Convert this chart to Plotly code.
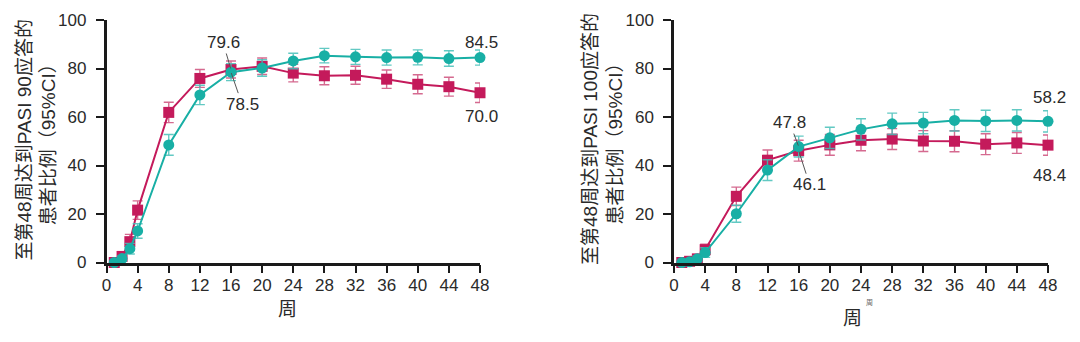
import plotly.graph_objects as go

# ---------------- data ----------------
weeks = [1, 2, 3, 4, 8, 12, 16, 20, 24, 28, 32, 36, 40, 44, 48]
x_ticks = [0, 4, 8, 12, 16, 20, 24, 28, 32, 36, 40, 44, 48]
y_ticks = [0, 20, 40, 60, 80, 100]

# PASI 90 (left panel)
p90_sq = [0.0, 2.5, 8.6, 21.6, 61.9, 75.9, 79.6, 80.9, 78.1, 77.0, 77.2, 75.6, 73.5, 72.5, 70.0]
p90_sq_err = [0.5, 1.5, 3.0, 3.8, 4.2, 3.7, 3.5, 3.4, 3.6, 3.7, 3.7, 3.8, 3.9, 3.9, 4.0]
p90_ci = [0.0, 1.6, 5.7, 13.0, 48.5, 69.1, 78.5, 80.2, 83.1, 85.3, 84.8, 84.5, 84.6, 84.1, 84.5]
p90_ci_err = [0.3, 1.0, 2.2, 3.0, 4.3, 4.0, 3.5, 3.4, 3.2, 3.0, 3.1, 3.1, 3.1, 3.2, 3.1]

# PASI 100 (right panel)
p100_sq = [0.0, 0.5, 1.5, 5.3, 27.3, 42.2, 46.1, 48.5, 50.4, 50.9, 50.1, 50.0, 48.8, 49.3, 48.4]
p100_sq_err = [0.2, 0.6, 1.2, 2.2, 3.8, 4.2, 4.3, 4.3, 4.3, 4.3, 4.3, 4.3, 4.3, 4.3, 4.2]
p100_ci = [0.0, 0.3, 1.5, 4.1, 20.1, 38.1, 47.8, 51.4, 54.9, 57.2, 57.5, 58.6, 58.4, 58.6, 58.2]
p100_ci_err = [0.2, 0.5, 1.2, 2.0, 3.5, 4.3, 4.3, 4.4, 4.4, 4.4, 4.4, 4.4, 4.4, 4.4, 4.4]

y_title_left = "至第48周达到PASI 90应答的<br>患者比例（95%CI）"
y_title_right = "至第48周达到PASI 100应答的<br>患者比例（95%CI）"
x_title = "周"

# ---------------- style ----------------
MAG = "#C41A5B"
MAG_ERR = "rgba(206,80,124,0.85)"
TEAL = "#18AFA5"
TEAL_ERR = "rgba(70,192,184,0.85)"
AXIS = "#1a1a1a"
TXT = "#2a2a2a"
FONT = "Liberation Sans, Arial, Noto Sans CJK SC, sans-serif"
CJK = "Liberation Sans, Noto Sans CJK SC, sans-serif"

fig = go.Figure()


def add_series(y, err, color, ecolor, symbol, xa, ya):
    fig.add_trace(go.Scatter(
        x=weeks, y=y, mode="lines+markers",
        line=dict(color=color, width=2),
        marker=dict(color=color, size=11, symbol=symbol, line=dict(width=0)),
        error_y=dict(type="data", array=err, visible=True, color=ecolor,
                     thickness=1.4, width=5),
        cliponaxis=False, showlegend=False, xaxis=xa, yaxis=ya,
    ))


add_series(p90_sq, p90_sq_err, MAG, MAG_ERR, "square", "x", "y")
add_series(p90_ci, p90_ci_err, TEAL, TEAL_ERR, "circle", "x", "y")
add_series(p100_sq, p100_sq_err, MAG, MAG_ERR, "square", "x2", "y2")
add_series(p100_ci, p100_ci_err, TEAL, TEAL_ERR, "circle", "x2", "y2")

ydom = [(342 - 262.5) / 342, (342 - 20) / 342]
axis_common = dict(
    showline=True, linecolor=AXIS, linewidth=2.5, showgrid=False, zeroline=False,
    ticks="outside", ticklen=8, tickwidth=2, tickcolor=AXIS, automargin=False,
    tickfont=dict(family=FONT, size=17, color=TXT),
)
fig.update_layout(
    width=1080, height=342,
    margin=dict(l=0, r=0, t=0, b=0, pad=0, autoexpand=False),
    paper_bgcolor="white", plot_bgcolor="white", showlegend=False,
    xaxis=dict(domain=[106.5 / 1080, 480 / 1080], range=[0, 48], tickvals=x_ticks,
               anchor="y", ticklabelstandoff=-3, **axis_common),
    yaxis=dict(domain=ydom, range=[0, 100], tickvals=y_ticks, anchor="x",
               ticklabelstandoff=6, **axis_common),
    xaxis2=dict(domain=[674 / 1080, 1048 / 1080], range=[0, 48], tickvals=x_ticks,
                anchor="y2", ticklabelstandoff=-3, **axis_common),
    yaxis2=dict(domain=ydom, range=[0, 100], tickvals=y_ticks, anchor="x2",
                ticklabelstandoff=6, **axis_common),
)

ann_font = dict(family=FONT, size=17, color=TXT)
anns = [
    # leader-line labels at week 16
    dict(x=16, y=p90_sq[6], xref="x", yref="y", text=f"{p90_sq[6]:.1f}",
         showarrow=True, arrowhead=0, arrowwidth=1, arrowcolor="#555",
         ax=-8, ay=-27, standoff=1, font=ann_font),
    dict(x=16, y=p90_ci[6], xref="x", yref="y", text=f"{p90_ci[6]:.1f}",
         showarrow=True, arrowhead=0, arrowwidth=1, arrowcolor="#555",
         ax=11, ay=32, standoff=1, font=ann_font),
    dict(x=16, y=p100_ci[6], xref="x2", yref="y2", text=f"{p100_ci[6]:.1f}",
         showarrow=True, arrowhead=0, arrowwidth=1, arrowcolor="#555",
         ax=-9, ay=-24, standoff=1, font=ann_font),
    dict(x=16, y=p100_sq[6], xref="x2", yref="y2", text=f"{p100_sq[6]:.1f}",
         showarrow=True, arrowhead=0, arrowwidth=1, arrowcolor="#555",
         ax=11, ay=34, standoff=1, font=ann_font),
    # end labels at week 48
    dict(x=48, y=p90_ci[-1], xref="x", yref="y", text=f"{p90_ci[-1]:.1f}",
         showarrow=False, yshift=15, xshift=1, font=ann_font),
    dict(x=48, y=p90_sq[-1], xref="x", yref="y", text=f"{p90_sq[-1]:.1f}",
         showarrow=False, yshift=-24, xshift=1, font=ann_font),
    dict(x=48, y=p100_ci[-1], xref="x2", yref="y2", text=f"{p100_ci[-1]:.1f}",
         showarrow=False, yshift=24, xshift=1, font=ann_font),
    dict(x=48, y=p100_sq[-1], xref="x2", yref="y2", text=f"{p100_sq[-1]:.1f}",
         showarrow=False, yshift=-30, xshift=1, font=ann_font),
    # axis titles
    dict(x=36.5 / 1080, y=(342 - 140) / 342, xref="paper", yref="paper",
         text=y_title_left, textangle=-90, showarrow=False,
         xanchor="center", yanchor="middle",
         font=dict(family=CJK, size=19, color=TXT)),
    dict(x=603 / 1080, y=(342 - 139) / 342, xref="paper", yref="paper",
         text=y_title_right, textangle=-90, showarrow=False,
         xanchor="center", yanchor="middle",
         font=dict(family=CJK, size=19, color=TXT)),
    dict(x=287 / 1080, y=(342 - 309) / 342, xref="paper", yref="paper",
         text=x_title, showarrow=False, xanchor="center", yanchor="middle",
         font=dict(family=CJK, size=19, color=TXT)),
    dict(x=852 / 1080, y=(342 - 318) / 342, xref="paper", yref="paper",
         text=x_title, showarrow=False, xanchor="center", yanchor="middle",
         font=dict(family=CJK, size=19, color=TXT)),
    dict(x=869 / 1080, y=(342 - 303) / 342, xref="paper", yref="paper",
         text=x_title, showarrow=False, xanchor="center", yanchor="middle",
         font=dict(family=CJK, size=7, color="#666")),
]
fig.update_layout(annotations=anns)

fig.write_html("out.html")
